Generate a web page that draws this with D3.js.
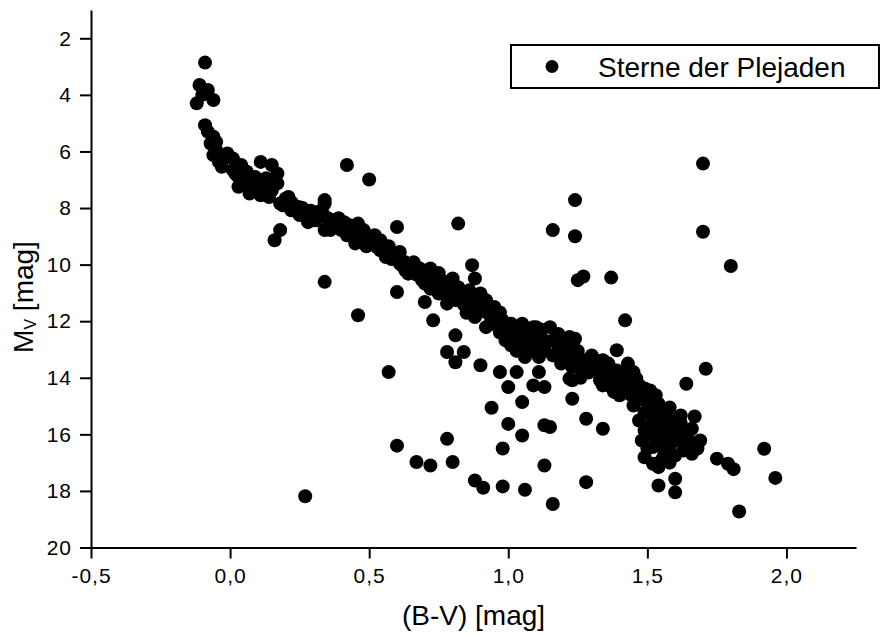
<!DOCTYPE html>
<html>
<head>
<meta charset="utf-8">
<script src="https://cdnjs.cloudflare.com/ajax/libs/d3/7.8.5/d3.min.js"></script>
<style>
  body { margin: 0; background: #fff; }
  text { font-family: "Liberation Sans", Arial, sans-serif; fill: #000; }
</style>
</head>
<body>
<svg id="chart"></svg>
<script>
// Pleiades colour-magnitude diagram, values as [B-V, Mv]

// upper part of the sequence, B-V < 0.17
var brightStars = [
  [-0.09,2.86],[-0.11,3.65],[-0.08,3.83],[-0.06,4.18],[-0.12,4.30],[-0.10,4.00],
  [-0.09,5.07],[-0.06,5.48],[-0.07,5.72],[-0.05,5.66],[-0.06,6.13],[-0.08,5.30],[-0.05,5.95],
  [-0.03,6.54],[-0.01,6.07],[0.01,6.25],[-0.04,6.37],[-0.02,6.24],
  [0.03,6.90],[0.06,6.72],[0.03,7.25],[0.07,7.49],[0.11,6.37],[0.15,6.48],[0.17,6.78],[0.17,7.13],
  [0.10,7.13],[0.09,6.90],[0.14,7.61],[0.05,7.02],[0.08,7.19],[0.10,7.44],[0.12,7.30],[0.01,6.66],
  [0.04,6.48],[0.13,6.95],[0.11,7.55],[0.06,6.95],[0.15,7.37],
  [0.02,6.80],[0.07,7.10],[0.12,7.05],[0.16,7.00],[0.09,7.35],[0.13,7.50],[0.04,7.15]
];

// main sequence, B-V 0.18 .. 0.9
var midStars = [
  [0.18,7.84],[0.21,7.61],[0.22,8.08],[0.27,8.25],[0.30,8.43],[0.34,7.72],[0.33,8.08],[0.34,8.78],
  [0.20,7.66],[0.24,8.08],[0.30,8.25],[0.34,7.84],[0.37,8.43],[0.36,8.78],[0.19,7.90],[0.25,7.97],
  [0.26,8.18],[0.31,8.15],[0.22,7.79],[0.28,8.50],[0.31,8.43],
  [0.23,7.90],[0.26,8.00],[0.29,8.10],[0.32,8.25],[0.35,8.35],[0.28,8.30],[0.21,7.95],[0.25,8.25],
  [0.39,8.36],[0.41,8.50],[0.43,8.61],[0.44,9.02],[0.46,8.55],[0.48,8.78],[0.50,9.14],[0.52,8.96],
  [0.54,9.14],[0.54,9.49],[0.56,9.73],[0.40,8.78],[0.42,8.96],[0.45,8.85],[0.47,9.14],[0.49,9.35],
  [0.52,9.32],[0.38,8.61],[0.45,9.25],[0.55,9.32],[0.57,9.56],
  [0.40,8.60],[0.43,8.75],[0.46,8.90],[0.48,9.00],[0.50,9.25],[0.53,9.40],[0.56,9.50],[0.58,9.80],
  [0.51,9.05],[0.44,8.80],[0.57,9.35],
  [0.59,9.67],[0.61,9.78],[0.63,9.92],[0.64,10.32],[0.64,10.02],[0.66,10.20],[0.68,10.38],[0.68,10.13],
  [0.70,10.67],[0.72,10.14],[0.70,10.49],[0.73,10.73],[0.75,11.02],[0.66,9.92],[0.63,10.20],
  [0.61,9.55],[0.61,9.96],
  [0.62,10.05],[0.65,10.05],[0.67,10.35],[0.69,10.55],[0.71,10.40],[0.74,10.55],[0.76,10.75],
  [0.72,10.85],[0.78,10.85],[0.75,10.30],[0.77,10.60],
  [0.80,10.49],[0.80,10.91],[0.78,11.38],[0.84,11.02],[0.88,10.49],[0.85,11.38],[0.88,11.38],
  [0.88,11.85],[0.92,11.26],[0.77,10.91],[0.79,11.19],[0.82,11.08],[0.83,11.26],[0.86,10.91],
  [0.90,11.02],[0.90,11.62],
  [0.81,11.25],[0.84,11.40],[0.86,11.20],[0.87,11.55],[0.89,11.70],[0.91,11.50],[0.93,11.75],
  [0.85,11.70],[0.82,10.80]
];

// main sequence, B-V 0.92 .. 1.7
var redStars = [
  [0.95,11.50],[0.94,11.97],[0.92,12.21],[0.98,11.97],[1.01,12.09],[1.05,12.09],[1.09,12.21],
  [0.99,12.68],[1.04,12.56],[1.06,13.27],[1.11,12.44],[1.03,12.21],[1.07,12.32],[1.10,12.21],
  [0.97,11.69],[1.00,12.32],[1.02,12.75],[1.06,12.68],[1.06,12.93],[1.09,12.85],[1.11,13.27],
  [0.96,12.15],[1.04,12.96],
  [0.97,12.40],[1.00,12.55],[1.02,12.45],[1.05,12.35],[1.08,12.50],[1.12,12.30],[1.13,12.90],
  [1.08,13.05],[1.03,13.05],[1.01,12.85],
  [1.15,12.21],[1.13,13.03],[1.17,12.68],[1.22,12.56],[1.21,13.03],[1.19,13.50],[1.23,13.62],
  [1.24,13.27],[1.24,12.62],[1.22,14.03],[1.16,12.68],[1.18,13.03],[1.22,13.15],[1.13,12.68],
  [1.16,13.21],[1.20,12.85],[1.23,14.09],[1.25,13.56],[1.27,13.38],
  [1.18,12.45],[1.20,13.30],[1.25,13.05],[1.27,13.75],[1.26,14.00],[1.19,13.25],[1.23,12.85],
  [1.30,13.21],[1.36,13.50],[1.39,13.03],[1.43,13.50],[1.33,14.09],[1.37,14.33],[1.41,14.21],
  [1.45,14.33],[1.47,14.56],[1.31,13.56],[1.33,13.74],[1.34,13.38],[1.36,13.92],[1.39,13.74],
  [1.42,13.92],[1.43,14.09],[1.40,14.62],[1.46,14.02],[1.29,13.81],[1.34,14.27],[1.49,14.38],
  [1.32,13.40],[1.35,13.65],[1.38,14.05],[1.41,14.45],[1.44,14.60],[1.47,14.25],[1.45,13.80],
  [1.38,14.50],[1.50,14.65],
  [1.51,14.45],[1.49,14.80],[1.54,14.92],[1.57,15.27],[1.52,15.39],[1.62,15.33],[1.67,15.37],
  [1.60,15.86],[1.57,15.86],[1.64,15.86],[1.48,16.22],[1.52,16.45],[1.49,16.81],[1.52,17.04],
  [1.55,16.92],[1.58,16.45],[1.59,15.98],[1.66,16.69],[1.69,16.22],[1.54,17.16],[1.60,17.57],
  [1.54,17.81],[1.60,18.05],
  [1.52,14.98],[1.54,15.51],[1.56,15.69],[1.53,15.93],[1.51,15.69],[1.49,15.22],[1.58,15.51],
  [1.61,16.22],[1.63,16.57],[1.54,16.39],[1.56,16.75],[1.60,16.75],[1.65,16.22],[1.49,15.86],
  [1.47,15.51],[1.45,14.98],[1.53,14.62],[1.60,15.69],[1.68,16.50],
  [1.55,15.10],[1.58,15.05],[1.62,15.60],[1.66,15.80],[1.56,16.10],[1.62,16.00],[1.64,16.40],
  [1.58,17.00],[1.50,16.50],[1.52,16.05]
];

// scattered stars off the sequence
var fieldStars = [
  [0.42,6.48],[0.50,6.99],[0.34,10.61],[0.46,11.79],[0.60,8.67],[0.60,10.97],[0.57,13.80],
  [0.87,10.02],[0.70,11.32],[0.73,11.97],[0.82,8.55],[0.81,12.50],[0.78,13.09],[0.84,13.09],
  [0.81,13.45],[0.90,13.56],[0.78,16.16],[0.98,16.50],[0.60,16.40],[0.67,16.98],[0.72,17.10],
  [0.80,16.98],[0.88,17.63],[0.91,17.89],[0.27,18.19],[0.94,15.06],
  [0.97,13.80],[1.03,13.80],[1.00,14.33],[1.09,14.27],[1.13,14.33],[1.05,14.86],[1.00,15.63],
  [1.13,15.68],[1.15,15.74],[1.05,16.04],[1.11,13.80],[1.13,17.10],[0.98,17.84],[1.06,17.96],
  [1.16,18.46],[1.23,14.74],
  [1.24,7.72],[1.16,8.78],[1.24,9.00],[1.70,6.43],[1.70,8.84],[1.80,10.05],[1.27,10.42],
  [1.25,10.55],[1.37,10.46],[1.42,11.97],[1.28,15.45],[1.34,15.80],[1.28,17.69],
  [1.75,16.86],[1.79,17.04],[1.81,17.23],[1.92,16.51],[1.96,17.54],[1.83,18.73],[1.71,13.68],
  [1.64,14.21],[0.18,8.78],[0.16,9.14]
];

var xMajor = [-0.5, 0, 0.5, 1.0, 1.5, 2.0];
var xMinor = [-0.25, 0.25, 0.75, 1.25, 1.75, 2.25];
var yMajor = [2, 4, 6, 8, 10, 12, 14, 16, 18, 20];
var yMinor = [1, 3, 5, 7, 9, 11, 13, 15, 17, 19];
var legendLabel = "Sterne der Plejaden";
var xTitle = "(B-V) [mag]";

var w = 880;
var h = 635;
var svg = d3.select("#chart")
  .attr("width", w)
  .attr("height", h);

svg.append("rect")
  .attr("width", w)
  .attr("height", h)
  .attr("fill", "#fff");

var x = d3.scaleLinear().domain([-0.5, 2.25]).range([91, 856]);
var y = d3.scaleLinear().domain([1, 20]).range([10, 547.5]);

var deFormat = d3.formatLocale({decimal: ",", thousands: ".", grouping: [3], currency: ["", ""], minus: "-"}).format(".1f");

// x axis
var gx = svg.append("g").attr("transform", "translate(0," + y(20) + ")");
gx.call(d3.axisBottom(x).tickValues(xMinor).tickSize(6).tickSizeOuter(0).tickFormat(""));
gx.call(d3.axisBottom(x).tickValues(xMajor).tickSize(11).tickSizeOuter(0).tickPadding(9.5).tickFormat(deFormat));

// y axis
var gy = svg.append("g").attr("transform", "translate(" + x(-0.5) + ",0)");
gy.call(d3.axisLeft(y).tickValues(yMinor).tickSize(6).tickSizeOuter(0).tickFormat(""));
gy.call(d3.axisLeft(y).tickValues(yMajor).tickSize(11).tickSizeOuter(0).tickPadding(8).tickFormat(d3.format("d")));

svg.selectAll(".domain, .tick line")
  .attr("stroke", "#000")
  .attr("stroke-width", 2);

svg.selectAll(".tick text")
  .style("font-family", '"Liberation Sans", Arial, sans-serif')
  .style("font-size", "21px")
  .style("letter-spacing", "1px")
  .attr("fill", "#000");

// stars
var allStars = brightStars.concat(midStars, redStars, fieldStars);
svg.append("g")
  .selectAll("circle")
  .data(allStars)
  .join("circle")
  .attr("cx", function(d) { return x(d[0]); })
  .attr("cy", function(d) { return y(d[1]); })
  .attr("r", 7)
  .attr("fill", "#000");

// axis titles
svg.append("text")
  .attr("x", (x(-0.5) + x(2.25)) / 2)
  .attr("y", 625)
  .attr("text-anchor", "middle")
  .style("font-size", "28px")
  .text(xTitle);

var yt = svg.append("text")
  .attr("transform", "translate(33,297) rotate(-90)")
  .attr("text-anchor", "middle")
  .style("font-size", "28px");
yt.append("tspan").text("M");
yt.append("tspan").attr("dy", 3).style("font-size", "16px").text("V");
yt.append("tspan").attr("dy", -3).text(" [mag]");

// legend
var legend = svg.append("g");
legend.append("rect")
  .attr("x", 511)
  .attr("y", 45)
  .attr("width", 368)
  .attr("height", 43)
  .attr("fill", "#fff")
  .attr("stroke", "#000")
  .attr("stroke-width", 2);
legend.append("circle")
  .attr("cx", 552)
  .attr("cy", 66.5)
  .attr("r", 6.5)
  .attr("fill", "#000");
legend.append("text")
  .attr("x", 598)
  .attr("y", 76.5)
  .style("font-size", "28px")
  .text(legendLabel);
</script>
</body>
</html>
